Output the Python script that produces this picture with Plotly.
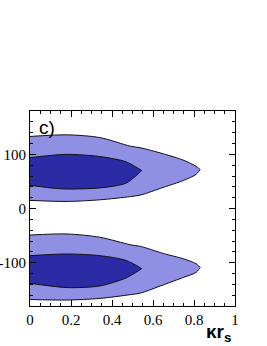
import plotly.graph_objects as go

# Upper band
up_out_x = [0.0, 0.18, 0.34, 0.49, 0.54, 0.65, 0.75, 0.81, 0.83]
up_out_top = [133, 136, 131, 115, 112, 101, 89, 78, 72]
up_out_bot = [15, 13, 16, 22, 25, 39, 52, 63, 72]

up_in_x = [0.0, 0.10, 0.18, 0.34, 0.47, 0.545]
up_in_top = [94, 98, 100, 96, 86, 70]
up_in_bot = [43, 38, 36, 38, 47, 70]

# Lower band
lo_out_x = [0.0, 0.18, 0.34, 0.49, 0.54, 0.65, 0.75, 0.81, 0.83]
lo_out_top = [-49, -47, -53, -67, -70, -83, -93, -102, -109]
lo_out_bot = [-168, -169, -166, -159, -156, -141, -127, -118, -109]

lo_in_x = [0.0, 0.18, 0.34, 0.47, 0.545]
lo_in_top = [-87, -84, -87, -96, -111]
lo_in_bot = [-138, -146, -143, -128, -111]

OUTER = "#8f8fe4"
INNER = "#2b2ba6"


def poly(xs, top, bot):
    return xs + xs[::-1], top + bot[::-1]


fig = go.Figure()
for xs, t, b, col in [
    (up_out_x, up_out_top, up_out_bot, OUTER),
    (lo_out_x, lo_out_top, lo_out_bot, OUTER),
    (up_in_x, up_in_top, up_in_bot, INNER),
    (lo_in_x, lo_in_top, lo_in_bot, INNER),
]:
    px, py = poly(xs, t, b)
    fig.add_trace(go.Scatter(x=px, y=py, mode="lines", fill="toself",
                             fillcolor=col, line=dict(color="#111111", width=1, shape="spline", smoothing=0.8),
                             hoverinfo="skip", showlegend=False))

SERIF = "Times New Roman, Liberation Serif, serif"
tickfont = dict(family=SERIF, size=15, color="black")
fig.update_xaxes(range=[0, 1], showline=True, linecolor="black", linewidth=1, mirror="ticks",
                 ticks="inside", ticklen=6, tickcolor="black", dtick=0.2, tick0=0,
                 minor=dict(dtick=0.05, ticks="inside", ticklen=3, tickcolor="black"),
                 showgrid=False, zeroline=False, tickfont=tickfont, automargin=False)
fig.update_yaxes(range=[-180, 180], showline=True, linecolor="black", linewidth=1, mirror="ticks",
                 ticks="inside", ticklen=6, tickcolor="black", tickvals=[-100, 0, 100],
                 ticktext=["-100", "0", "100"],
                 minor=dict(dtick=20, tick0=0, ticks="inside", ticklen=3, tickcolor="black"),
                 showgrid=False, zeroline=False, tickfont=tickfont, automargin=False)

fig.add_annotation(text="c)", xref="paper", yref="paper", x=0.035, y=1, xanchor="left", yanchor="top",
                   yshift=-4, showarrow=False, font=dict(family="Liberation Sans, Arial, sans-serif", size=19, color="black"))
fig.add_annotation(text="<b>κr<sub>s</sub></b>", xref="paper", yref="paper", x=0.99, y=0,
                   xanchor="right", yanchor="top", yshift=-13, showarrow=False,
                   font=dict(family="Liberation Sans, Arial, sans-serif", size=19, color="black"))

fig.update_layout(width=267, height=346, margin=dict(l=30, r=32, t=111, b=40, autoexpand=False),
                  plot_bgcolor="white", paper_bgcolor="white")
fig.write_html("out.html", config={"displayModeBar": False},
               post_script="document.body.style.margin='0';")
